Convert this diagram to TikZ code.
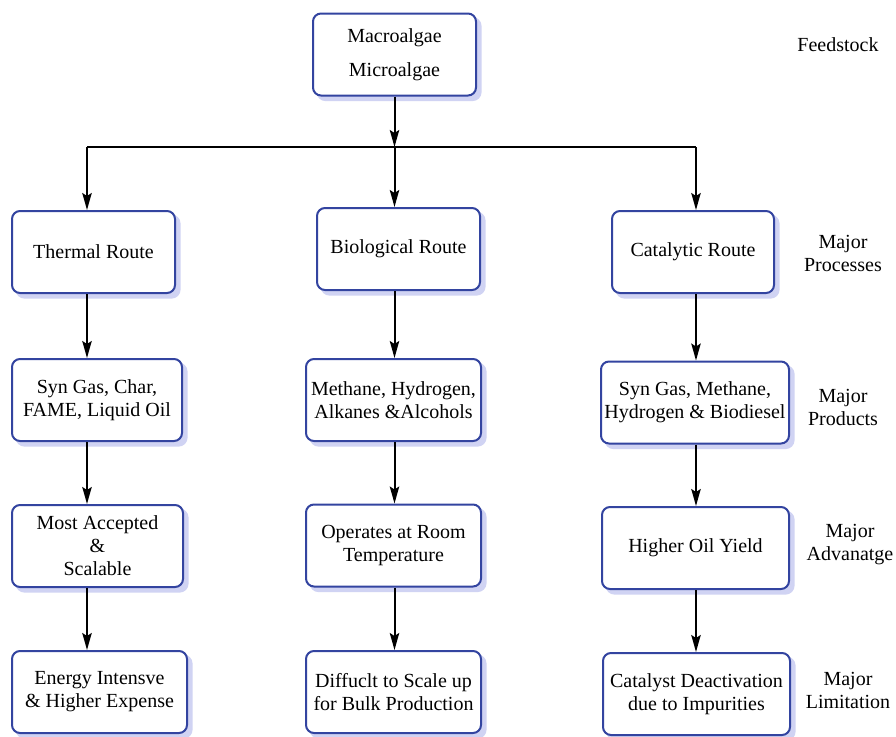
\documentclass[tikz,border=0pt]{standalone}
\usepackage{fontspec}
\setmainfont{Liberation Serif}
\usetikzlibrary{arrows.meta}
\usetikzlibrary{positioning}
\definecolor{boxblue}{RGB}{51,68,160}
\definecolor{shadeblue}{RGB}{208,211,243}

\begin{document}
\begin{tikzpicture}[x=0.5pt,y=-0.5pt,>={Stealth[length=8.5pt,width=4.7pt,inset=1.5pt]},
    route box/.style={draw=boxblue,line width=1pt,rounded corners=4pt,fill=white,align=center,inner sep=1pt,
      minimum height=41pt,preaction={fill=shadeblue,draw=shadeblue,transform canvas={xshift=2.3pt,yshift=-2.3pt}},
      font=\fontsize{10}{11.5}\selectfont},
    side label/.style={align=center,font=\fontsize{10}{11.5}\selectfont},
    link/.style={->,line width=1pt}]
      \useasboundingbox (0,0) rectangle (896,736);

      \node [route box, minimum width=81.5pt] (feed) at (394.5,54.5) {Macroalgae\\[5.5pt]Microalgae};

      \node [route box, minimum width=81.5pt] (thermal) at (93.5,252) {Thermal Route};
      \node [route box, minimum width=81.5pt] (bio) at (398.5,249) {Biological Route};
      \node [route box, minimum width=81pt] (catal) at (693,252) {Catalytic Route};

      \node [route box, minimum width=85pt] (prodT) at (97,400) {Syn Gas, Char,\\FAME, Liquid Oil};
      \node [route box, minimum width=87.5pt] (prodB) at (393.5,400) {Methane, Hydrogen,\\Alkanes \&Alcohols};
      \node [route box, minimum width=94pt] (prodC) at (695,402.5) {Syn Gas, Methane,\\Hydrogen \& Biodiesel};

      \node [route box, minimum width=85.5pt] (advT) at (97.5,546) {Most Accepted\\\&\\Scalable};
      \node [route box, minimum width=87.5pt] (advB) at (393.5,545.5) {Operates at Room\\Temperature};
      \node [route box, minimum width=93.5pt] (advC) at (695.5,548) {Higher Oil Yield};

      \node [route box, minimum width=87.5pt] (limT) at (99.5,692) {Energy Intensve\\\& Higher Expense};
      \node [route box, minimum width=87.5pt] (limB) at (393.5,692) {Diffuclt to Scale up\\for Bulk Production};
      \node [route box, minimum width=93.5pt] (limC) at (696.5,694) {Catalyst Deactivation\\due to Impurities};

      % row labels on the right
      \node [side label] (lblFeed) at (838,45) {Feedstock};
      \node [side label] (lblProc) at (843,253) {Major\\Processes};
      \node [side label] (lblProd) at (843,407.5) {Major\\Products};
      \node [side label] (lblAdv) at (850,544.5) {Major\\Advanatge};
      \node [side label] (lblLim) at (848,690.5) {Major\\Limitation};

      \coordinate (colT) at (87,147);
      \coordinate (colB) at (394.5,147);
      \coordinate (colC) at (696,147);

      \draw[link] (feed.south -| colB) -- (colB);
      \draw[line width=0.6pt] (colT) -- (colC);
      \draw[link] (colT) -- (colT |- thermal.north);
      \draw[link] (colB) -- (colB |- bio.north);
      \draw[link] (colC) -- (colC |- catal.north);

      \foreach \a/\b/\c in {thermal/prodT/colT, prodT/advT/colT, advT/limT/colT,
                            bio/prodB/colB, prodB/advB/colB, advB/limB/colB,
                            catal/prodC/colC, prodC/advC/colC, advC/limC/colC}
        \draw[link] (\c |- \a.south) -- (\c |- \b.north);
    \end{tikzpicture}
\end{document}
